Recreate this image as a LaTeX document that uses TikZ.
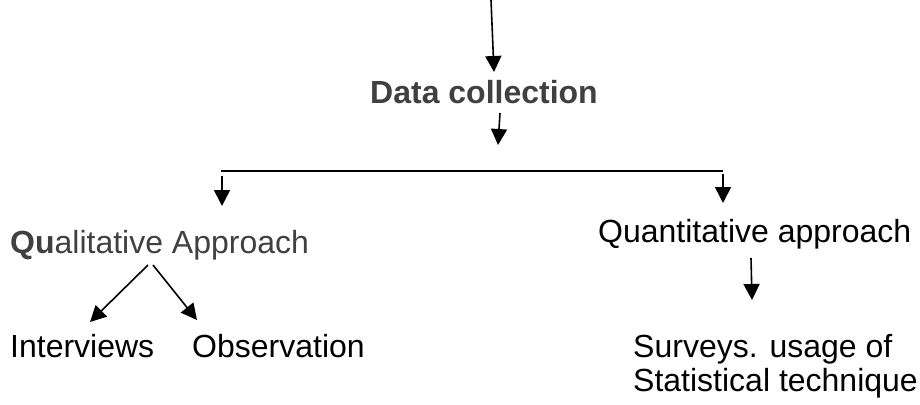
\documentclass[tikz,border=0pt]{standalone}
\usepackage{fontspec}
\setmainfont{Liberation Sans}
\usetikzlibrary{arrows.meta}
\definecolor{txtgrey}{RGB}{64,64,64}
\begin{document}
\begin{tikzpicture}[x=1pt,y=-1pt,
  lbl/.style={inner sep=0pt, anchor=base west, font=\fontsize{32}{34}\selectfont},
  arr/.style={line width=1.6pt, -{Triangle[length=16pt,width=16pt]}},
  barline/.style={line width=1.6pt}]
\useasboundingbox (0,0) rectangle (920,404);
% texts
\node[lbl, text=txtgrey, font=\fontsize{32}{34}\selectfont\bfseries] (dc) at (370,103) {Data collection};
\node[lbl, text=txtgrey] (qual) at (10,253) {{\bfseries Qu}alitative Approach};
\node[lbl] (quant) at (598,242) {Quantitative approach};
\node[lbl] (intv) at (10,357) {Interviews};
\node[lbl] (obs) at (192,357) {Observation};
\node[lbl, align=left] (surv) at (633,391) {Surveys. usage of\\Statistical technique};
% connector ends
\coordinate (top) at (491,0);
\coordinate (dcin) at (494,72);
\coordinate (dcout) at (500,113);
\coordinate (dcend) at (498,145);
\coordinate (barL) at (221,171);
\coordinate (barR) at (723,171);
\coordinate (lA) at (222,176);
\coordinate (lB) at (222,206);
\coordinate (rA) at (723,174);
\coordinate (rB) at (723,203);
\coordinate (qapex1) at (148,265);
\coordinate (qapex2) at (153,265);
\coordinate (intvTip) at (90,322);
\coordinate (obsTip) at (197,320);
\coordinate (qtA) at (751,258);
\coordinate (qtB) at (752,300);
% connectors
\draw[arr] (top) -- (dcin);
\draw[arr] (dcout) -- (dcend);
\draw[barline] (barL) -- (barR);
\draw[arr] (lA) -- (lB);
\draw[arr] (rA) -- (rB);
\draw[arr] (qapex1) -- (intvTip);
\draw[arr] (qapex2) -- (obsTip);
\draw[arr] (qtA) -- (qtB);
\end{tikzpicture}
\end{document}
